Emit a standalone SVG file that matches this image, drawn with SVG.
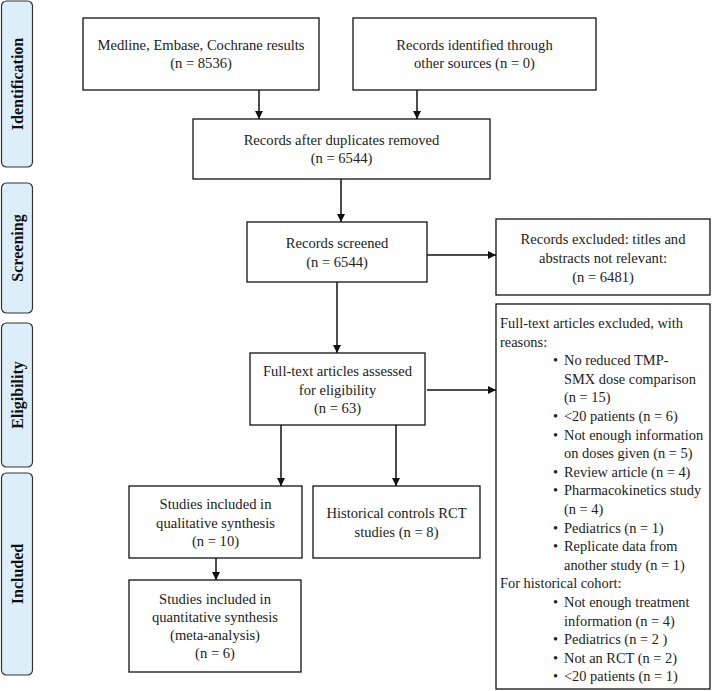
<svg xmlns="http://www.w3.org/2000/svg" width="712" height="691" viewBox="0 0 712 691">
<style>
.phase rect{fill:#dbeef9;stroke:#333;stroke-width:1.2}
.phase text{font-size:16px;font-weight:bold;fill:#111;text-anchor:middle}
.box rect{fill:#fff;stroke:#111;stroke-width:1.3}
.box text{font-size:14.6px;fill:#222;text-anchor:middle}
.box text.l{text-anchor:start;font-size:14.4px}
.conn line{stroke:#111;stroke-width:1.5;marker-end:url(#ah)}
</style>
<defs>
<marker id="ah" viewBox="0 0 10 10" refX="10" refY="5" markerWidth="8" markerHeight="8" markerUnits="userSpaceOnUse" orient="auto">
<path d="M0,0 L10,5 L0,10 z" fill="#111"/>
</marker>
</defs>
<rect width="712" height="691" fill="#fff"/>
<g font-family="'Liberation Serif', 'DejaVu Serif', serif">
<g id="phase-identification" class="phase"><rect x="1.5" y="1" width="31" height="166" rx="5"/><text transform="translate(22.5,84) rotate(-90)">Identification</text></g>
<g id="phase-screening" class="phase"><rect x="1.5" y="183" width="31" height="130" rx="5"/><text transform="translate(22.5,248) rotate(-90)">Screening</text></g>
<g id="phase-eligibility" class="phase"><rect x="1.5" y="323" width="31" height="144" rx="5"/><text transform="translate(22.5,395) rotate(-90)">Eligibility</text></g>
<g id="phase-included" class="phase"><rect x="1.5" y="473" width="31" height="202" rx="5"/><text transform="translate(22.5,574) rotate(-90)">Included</text></g>

<g id="n-medline" class="box"><rect x="83" y="18" width="236" height="72"/><text x="201" y="50">Medline, Embase, Cochrane results</text><text x="201" y="68">(n = 8536)</text></g>
<g id="n-other" class="box"><rect x="353" y="18" width="243" height="72"/><text x="474.5" y="50">Records identified through</text><text x="474.5" y="68">other sources (n = 0)</text></g>
<g id="n-dup" class="box"><rect x="193" y="119" width="297" height="60"/><text x="341.5" y="145">Records after duplicates removed</text><text x="341.5" y="163">(n = 6544)</text></g>
<g id="n-screened" class="box"><rect x="247" y="222" width="180" height="60"/><text x="337" y="248">Records screened</text><text x="337" y="267">(n = 6544)</text></g>
<g id="n-excluded" class="box"><rect x="496" y="219" width="214" height="76"/><text x="603" y="244">Records excluded: titles and</text><text x="603" y="263">abstracts not relevant:</text><text x="603" y="282">(n = 6481)</text></g>
<g id="n-assessed" class="box"><rect x="250" y="353" width="175" height="72"/><text x="337.5" y="376">Full-text articles assessed</text><text x="337.5" y="395">for eligibility</text><text x="337.5" y="413">(n = 63)</text></g>
<g id="n-ftexcluded" class="box"><rect x="496" y="304" width="214" height="385"/>
<text class="l" x="500" y="328">Full-text articles excluded, with</text>
<text class="l" x="500" y="346.6">reasons:</text>
<text class="l" x="553" y="365.2">•</text><text class="l" x="564" y="365.2">No reduced TMP-</text>
<text class="l" x="564" y="383.8">SMX dose comparison</text>
<text class="l" x="564" y="402.4">(n = 15)</text>
<text class="l" x="553" y="421">•</text><text class="l" x="564" y="421">&lt;20 patients (n = 6)</text>
<text class="l" x="553" y="439.6">•</text><text class="l" x="564" y="439.6">Not enough information</text>
<text class="l" x="564" y="458.2">on doses given (n = 5)</text>
<text class="l" x="553" y="476.8">•</text><text class="l" x="564" y="476.8">Review article (n = 4)</text>
<text class="l" x="553" y="495.4">•</text><text class="l" x="564" y="495.4">Pharmacokinetics study</text>
<text class="l" x="564" y="514">(n = 4)</text>
<text class="l" x="553" y="532.6">•</text><text class="l" x="564" y="532.6">Pediatrics (n = 1)</text>
<text class="l" x="553" y="551.2">•</text><text class="l" x="564" y="551.2">Replicate data from</text>
<text class="l" x="564" y="569.8">another study (n = 1)</text>
<text class="l" x="500" y="588.4">For historical cohort:</text>
<text class="l" x="553" y="607">•</text><text class="l" x="564" y="607">Not enough treatment</text>
<text class="l" x="564" y="625.6">information (n = 4)</text>
<text class="l" x="553" y="644.2">•</text><text class="l" x="564" y="644.2">Pediatrics (n = 2 )</text>
<text class="l" x="553" y="662.8">•</text><text class="l" x="564" y="662.8">Not an RCT (n = 2)</text>
<text class="l" x="553" y="681.4">•</text><text class="l" x="564" y="681.4">&lt;20 patients (n = 1)</text>
</g>
<g id="n-qualitative" class="box"><rect x="129" y="486" width="173" height="72"/><text x="215.5" y="509">Studies included in</text><text x="215.5" y="528">qualitative synthesis</text><text x="215.5" y="546">(n = 10)</text></g>
<g id="n-historical" class="box"><rect x="313" y="486" width="167" height="72"/><text x="396.5" y="518">Historical controls RCT</text><text x="396.5" y="537">studies (n = 8)</text></g>
<g id="n-quantitative" class="box"><rect x="129" y="580" width="172" height="92"/><text x="215" y="604">Studies included in</text><text x="215" y="622">quantitative synthesis</text><text x="215" y="640">(meta-analysis)</text><text x="215" y="658">(n = 6)</text></g>
</g>
<g id="connectors" class="conn">
<line x1="259" y1="90" x2="259" y2="119"/>
<line x1="417" y1="90" x2="417" y2="119"/>
<line x1="341" y1="179" x2="341" y2="222"/>
<line x1="337" y1="282" x2="337" y2="353"/>
<line x1="427" y1="255" x2="496" y2="255"/>
<line x1="427" y1="390" x2="496" y2="390"/>
<line x1="281" y1="425" x2="281" y2="486"/>
<line x1="396" y1="425" x2="396" y2="486"/>
<line x1="216" y1="558" x2="216" y2="580"/>
</g>
</svg>
